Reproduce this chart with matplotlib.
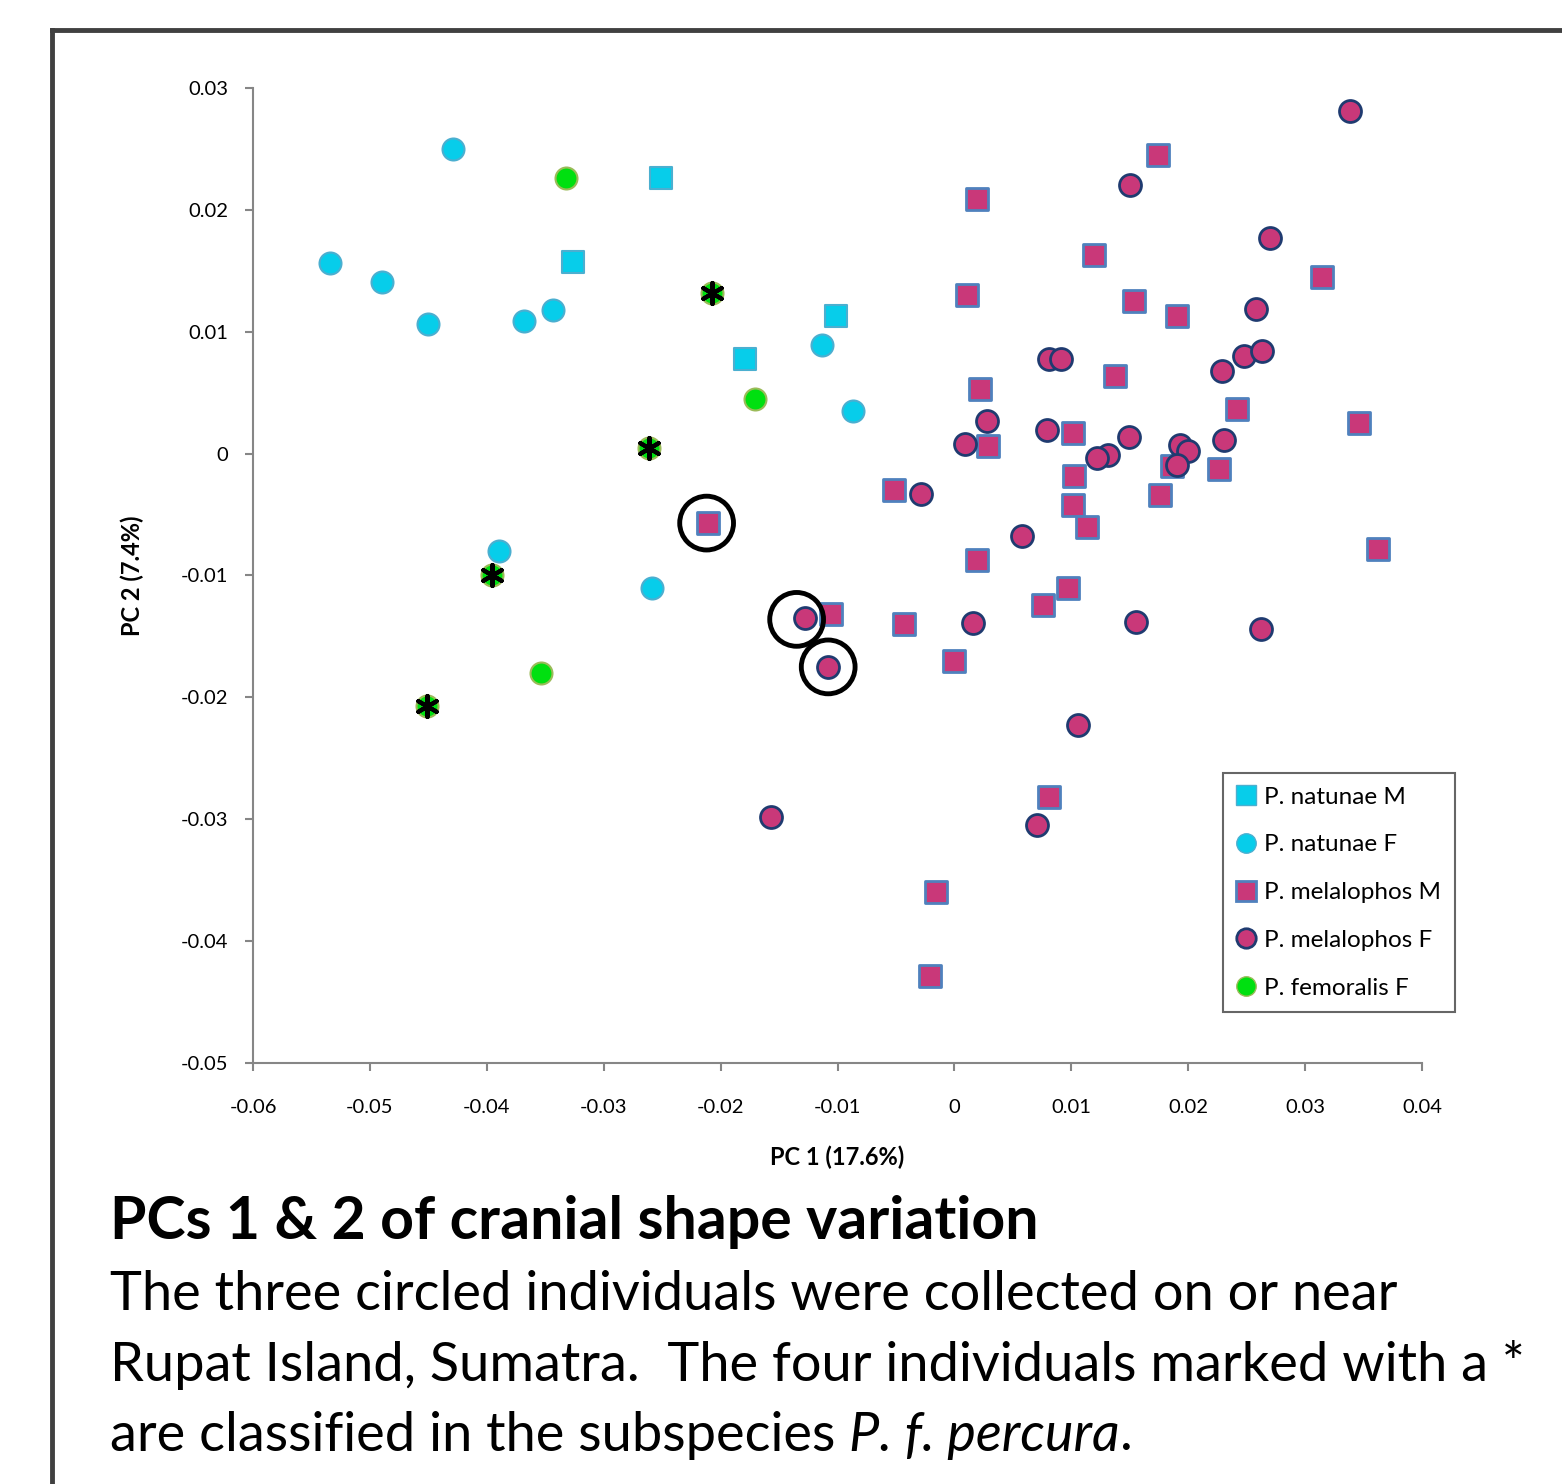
import matplotlib
matplotlib.use("Agg")
import matplotlib.pyplot as plt
from matplotlib.lines import Line2D

plt.rcParams['font.family'] = ['Lato', 'DejaVu Sans']
plt.rcParams['axes.unicode_minus'] = False

# PC scores
nat_m_x = [-0.0251, -0.0326, -0.0101, -0.0179]
nat_m_y = [0.0226, 0.0157, 0.0113, 0.0078]

nat_f_x = [-0.0429, -0.0534, -0.0490, -0.0450, -0.0368, -0.0343, -0.0113, -0.0087, -0.0390, -0.0259]
nat_f_y = [0.0250, 0.0156, 0.0141, 0.0106, 0.0109, 0.0118, 0.0089, 0.0035, -0.0080, -0.0110]

mel_m_x = [0.0174, 0.0019, 0.0119, 0.0011, 0.0154, 0.0190, 0.0314, 0.0022, 0.0137, 0.0242,
           0.0346, 0.0029, 0.0101, 0.0102, 0.0186, 0.0226, 0.0176, -0.0052, 0.0101, 0.0113,
           -0.0211, 0.0019, 0.0362, 0.0097, 0.0076, -0.0106, -0.0043, 0.0000, 0.0081, -0.0016,
           -0.0021]
mel_m_y = [0.0245, 0.0209, 0.0163, 0.0130, 0.0125, 0.0113, 0.0145, 0.0053, 0.0064, 0.0037,
           0.0025, 0.0006, 0.0017, -0.0018, -0.0010, -0.0013, -0.0034, -0.0030, -0.0042, -0.0060,
           -0.0057, -0.0087, -0.0078, -0.0110, -0.0124, -0.0132, -0.0140, -0.0170, -0.0282, -0.0360,
           -0.0429]

mel_f_x = [0.0338, 0.0150, 0.0270, 0.0258, 0.0081, 0.0091, 0.0248, 0.0263, 0.0229, 0.0028,
           0.0009, 0.0079, 0.0131, 0.0122, 0.0149, 0.0193, 0.0200, 0.0190, 0.0231, -0.0029,
           0.0058, -0.0128, -0.0108, 0.0016, 0.0155, 0.0262, 0.0106, -0.0157, 0.0071]
mel_f_y = [0.0281, 0.0220, 0.0177, 0.0119, 0.0078, 0.0078, 0.0080, 0.0084, 0.0068, 0.0027,
           0.0008, 0.0019, -0.0001, -0.0004, 0.0014, 0.0007, 0.0002, -0.0009, 0.0011, -0.0033,
           -0.0068, -0.0135, -0.0175, -0.0139, -0.0138, -0.0144, -0.0223, -0.0298, -0.0305]

fem_f_x = [-0.0332, -0.0171, -0.0354, -0.0207, -0.0261, -0.0396, -0.0451]
fem_f_y = [0.0226, 0.0045, -0.0180, 0.0132, 0.0005, -0.0100, -0.0207]

# P. f. percura individuals (marked with *)
percura_x = [-0.0207, -0.0261, -0.0396, -0.0451]
percura_y = [0.0132, 0.0005, -0.0100, -0.0207]

# Rupat Island individuals (circled)
rupat_x = [-0.0212, -0.0135, -0.0108]
rupat_y = [-0.0057, -0.0136, -0.0175]

xticks = [-0.06, -0.05, -0.04, -0.03, -0.02, -0.01, 0, 0.01, 0.02, 0.03, 0.04]
yticks = [0.03, 0.02, 0.01, 0, -0.01, -0.02, -0.03, -0.04, -0.05]

cyan = '#07CDEA'
magenta = '#C93879'
green = '#00E010'

fig = plt.figure(figsize=(15.62, 14.84), dpi=100)
ax = fig.add_axes([0.162, 0.2837, 0.7484, 0.657])

s = 250
ax.scatter(nat_m_x, nat_m_y, marker='s', s=s, c=cyan, edgecolors='#4BAFD0', linewidths=1.5, zorder=3)
ax.scatter(nat_f_x, nat_f_y, marker='o', s=s, c=cyan, edgecolors='#4BAFD0', linewidths=1.5, zorder=3)
ax.scatter(mel_m_x, mel_m_y, marker='s', s=s, c=magenta, edgecolors='#4F81BD', linewidths=2, zorder=3)
ax.scatter(mel_f_x, mel_f_y, marker='o', s=s, c=magenta, edgecolors='#1F3B70', linewidths=2, zorder=3)
ax.scatter(fem_f_x, fem_f_y, marker='o', s=s, c=green, edgecolors='#9BBB59', linewidths=1.5, zorder=3)

ax.scatter(percura_x, percura_y, marker=(6, 2, 0), s=230, c='black', linewidths=3, zorder=4)
ax.scatter(rupat_x, rupat_y, marker='o', s=1500, facecolors='none', edgecolors='black', linewidths=3.5, zorder=4)

ax.set_xlim(-0.06, 0.04)
ax.set_ylim(-0.05, 0.03)
ax.set_xticks(xticks)
ax.set_yticks(yticks)
ax.set_xticklabels([f"{v:g}" for v in xticks])
ax.set_yticklabels([f"{v:g}" for v in yticks])
ax.tick_params(direction='out', length=6, width=1.5, color='#868686', labelsize=14.5)
ax.tick_params(axis='x', pad=20)
ax.tick_params(axis='y', pad=12)
for side in ['top', 'right']:
    ax.spines[side].set_visible(False)
for side in ['left', 'bottom']:
    ax.spines[side].set_color('#868686')
    ax.spines[side].set_linewidth(1.5)

ax.set_xlabel('PC 1 (17.6%)', fontsize=17, fontweight='bold', labelpad=21)
ax.set_ylabel('PC 2 (7.4%)', fontsize=17, fontweight='bold', labelpad=26)

handles = [
    Line2D([], [], ls='none', marker='s', ms=14, mfc=cyan, mec='#4BAFD0'),
    Line2D([], [], ls='none', marker='o', ms=14, mfc=cyan, mec='#4BAFD0'),
    Line2D([], [], ls='none', marker='s', ms=14, mfc=magenta, mec='#4F81BD', mew=2),
    Line2D([], [], ls='none', marker='o', ms=14, mfc=magenta, mec='#1F3B70', mew=2),
    Line2D([], [], ls='none', marker='o', ms=14, mfc=green, mec='#9BBB59'),
]
labels = ['P. natunae M', 'P. natunae F', 'P. melalophos M', 'P. melalophos F', 'P. femoralis F']
leg = fig.legend(handles, labels, loc='upper left', bbox_to_anchor=(0.783, 0.479),
                 fontsize=17.5, frameon=True, fancybox=False, edgecolor='#404040',
                 labelspacing=1.1, handlelength=0.8, handletextpad=0.35, borderpad=0.55,
                 borderaxespad=0)
leg.get_frame().set_linewidth(1.5)

# slide frame
fig.add_artist(Line2D([52 / 1562, 52 / 1562], [0, 1 - 30 / 1484], color='#404040', lw=3.5))
fig.add_artist(Line2D([52 / 1562, 1], [1 - 30 / 1484, 1 - 30 / 1484], color='#404040', lw=3.5))

# caption
fig.text(110 / 1562, 1 - 1222 / 1484, 'PCs 1 & 2 of cranial shape variation',
         fontsize=42.5, fontweight='bold', va='center')
fig.text(110 / 1562, 1 - 1295 / 1484, 'The three circled individuals were collected on or near',
         fontsize=39, va='center')
fig.text(110 / 1562, 1 - 1365 / 1484, 'Rupat Island, Sumatra.  The four individuals marked with a *',
         fontsize=39, va='center')
t3 = fig.text(110 / 1562, 1 - 1435 / 1484, 'are classified in the subspecies ',
              fontsize=39, va='center')
fig.canvas.draw()
r = fig.canvas.get_renderer()
bb = t3.get_window_extent(r)
t4 = fig.text(bb.x1 / fig.bbox.width, 1 - 1435 / 1484, 'P. f. percura',
              fontsize=39, style='italic', va='center')
bb4 = t4.get_window_extent(r)
fig.text(bb4.x1 / fig.bbox.width, 1 - 1435 / 1484, '.', fontsize=39, va='center')

fig.savefig('out.png', dpi=100)
